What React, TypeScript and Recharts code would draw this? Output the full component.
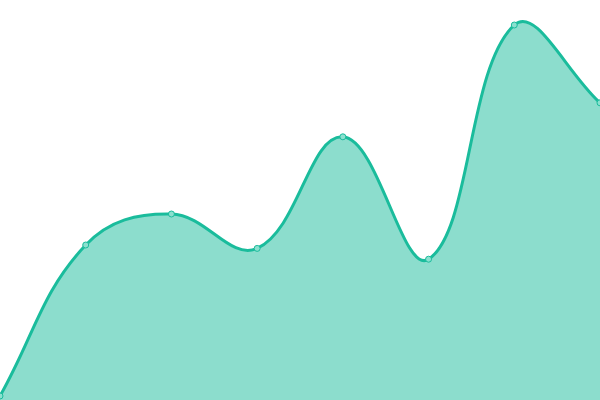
import { AreaChart, Area, XAxis, YAxis } from 'recharts';

const labels = ['A', 'B', 'C', 'D', 'E', 'F', 'G', 'H'];
const values = [1, 38.75, 46.5, 37.9, 65.8, 35.2, 93.75, 74.3];

const data = labels.map((name, i) => ({ name, value: values[i] }));

const W = 600;
const H = 400;
const TENSION = 0.4;

// spline like Chart.js (tension 0.4, control points kept inside the plot)
const tensionCurve = (context: any) => {
    let pts: number[][] = [];
    let line = NaN;
    const clamp = (v: number, lo: number, hi: number) => Math.max(lo, Math.min(hi, v));
    return {
        areaStart() { line = 0; },
        areaEnd() { line = NaN; },
        lineStart() { pts = []; },
        point(x: number, y: number) { pts.push([+x, +y]); },
        lineEnd() {
            const n = pts.length;
            if (n) {
                if (line) context.lineTo(pts[0][0], pts[0][1]);
                else context.moveTo(pts[0][0], pts[0][1]);
                const prevCp: number[][] = [];
                const nextCp: number[][] = [];
                for (let i = 0; i < n; i++) {
                    const a = pts[Math.max(i - 1, 0)];
                    const p = pts[i];
                    const b = pts[Math.min(i + 1, n - 1)];
                    const d01 = Math.hypot(p[0] - a[0], p[1] - a[1]);
                    const d12 = Math.hypot(b[0] - p[0], b[1] - p[1]);
                    let s01 = d01 / (d01 + d12);
                    let s12 = d12 / (d01 + d12);
                    if (isNaN(s01)) s01 = 0;
                    if (isNaN(s12)) s12 = 0;
                    const fa = TENSION * s01;
                    const fb = TENSION * s12;
                    prevCp.push([clamp(p[0] - fa * (b[0] - a[0]), 0, W), clamp(p[1] - fa * (b[1] - a[1]), 0, H)]);
                    nextCp.push([clamp(p[0] + fb * (b[0] - a[0]), 0, W), clamp(p[1] + fb * (b[1] - a[1]), 0, H)]);
                }
                for (let i = 1; i < n; i++) {
                    context.bezierCurveTo(nextCp[i - 1][0], nextCp[i - 1][1], prevCp[i][0], prevCp[i][1], pts[i][0], pts[i][1]);
                }
            }
            if (line || (line !== 0 && n === 1)) context.closePath();
            line = 1 - line;
        },
    };
};

export default function App() {
    return (
        <div style={{ position: 'fixed', top: 0, left: 0, width: W, height: H, background: '#fff' }}>
            <AreaChart width={W} height={H} data={data} margin={{ top: 0, right: 0, bottom: 0, left: 0 }}>
                <XAxis dataKey="name" hide />
                <YAxis hide domain={[0, 100]} />
                <Area
                    type={tensionCurve as any}
                    dataKey="value"
                    stroke="#1abc9c"
                    strokeWidth={3}
                    fill="#1abc9c"
                    fillOpacity={0.5}
                    dot={{ r: 3, fill: '#8be0cf', stroke: '#1abc9c', strokeWidth: 1, fillOpacity: 1 }}
                    activeDot={false}
                    isAnimationActive={false}
                />
            </AreaChart>
        </div>
    );
}
